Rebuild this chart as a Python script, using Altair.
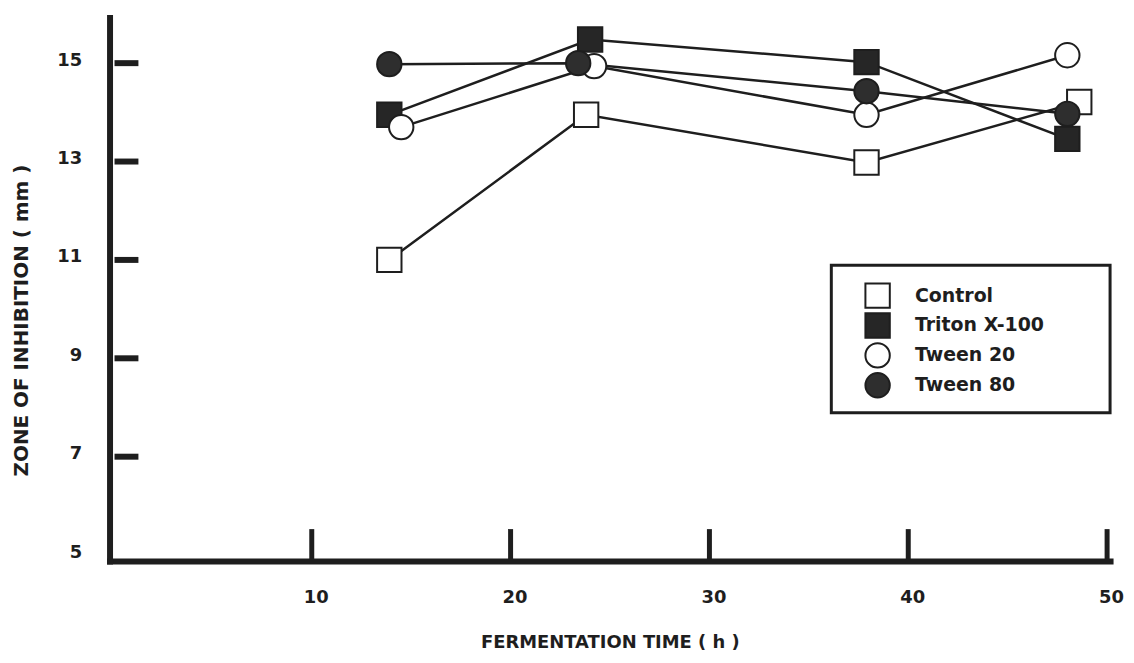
import altair as alt
import pandas as pd

series_names = ["Control", "Triton X-100", "Tween 20", "Tween 80"]
control_x = [13.9, 23.8, 37.9, 48.6]
control_y = [11.0, 13.95, 12.98, 14.21]
triton_x = [13.9, 24.0, 37.9, 48.0]
triton_y = [13.95, 15.48, 15.02, 13.46]
tween20_x = [14.5, 24.2, 37.9, 48.0]
tween20_y = [13.7, 14.94, 13.95, 15.16]
tween80_x = [13.9, 23.4, 37.9, 48.0]
tween80_y = [14.98, 15.0, 14.43, 13.97]

x_ticks = [10, 20, 30, 40, 50]
y_ticks = [7, 9, 11, 13, 15]
y_labels = [5, 7, 9, 11, 13, 15]

rows = []
for name, xs, ys in zip(series_names,
                        [control_x, triton_x, tween20_x, tween80_x],
                        [control_y, triton_y, tween20_y, tween80_y]):
    for xv, yv in zip(xs, ys):
        rows.append({"series": name, "x": xv, "y": yv})
df = pd.DataFrame(rows)

FONT = "DejaVu Sans"
INK = "#1e1e1e"
W, H = 1005, 546

xscale = alt.Scale(domain=[-0.17, 50.15], nice=False, zero=False)
yscale = alt.Scale(domain=[4.88, 15.93], nice=False, zero=False)

x_axis = alt.Axis(values=x_ticks, ticks=False, grid=False, domainWidth=6, domainColor=INK,
                  domainCap="square", labelFont=FONT, labelFontSize=18, labelFontWeight="bold",
                  labelColor=INK, labelPadding=28, labelOffset=4, labelFlush=False,
                  title="FERMENTATION TIME ( h )", titleFont=FONT, titleFontSize=18,
                  titleFontWeight="bold", titleColor=INK, titleY=82, titleBaseline="middle")
y_axis = alt.Axis(values=y_labels, ticks=False, grid=False, domainWidth=6, domainColor=INK,
                  domainCap="square", labelFont=FONT, labelFontSize=18, labelFontWeight="bold",
                  labelColor=INK, labelPadding=28, labelOffset=-3, labelFlush=False,
                  title="ZONE OF INHIBITION ( mm )", titleFont=FONT, titleFontSize=20,
                  titleFontWeight="bold", titleColor=INK, titleX=-88, titleY=304,
                  titleAngle=270, titleAlign="center", titleBaseline="middle")

X = alt.X("x:Q", scale=xscale, axis=x_axis)
Y = alt.Y("y:Q", scale=yscale, axis=y_axis)

leg = alt.Legend(symbolStrokeColor=INK, symbolStrokeWidth=2, symbolSize=600,
                 symbolOpacity=1, title=None)

lines = alt.Chart(df).mark_line(color=INK, strokeWidth=2.5).encode(
    x=X, y=Y, detail="series:N",
)

points = alt.Chart(df).mark_point(filled=True, strokeWidth=2, size=600, opacity=1).encode(
    x=X, y=Y,
    shape=alt.Shape("series:N", scale=alt.Scale(domain=series_names,
                    range=["square", "square", "circle", "circle"]), legend=leg),
    fill=alt.Fill("series:N", scale=alt.Scale(domain=series_names,
                  range=["white", "#262626", "white", "#2e2e2e"]), legend=leg),
    stroke=alt.Stroke("series:N", scale=alt.Scale(domain=series_names,
                      range=[INK, INK, INK, INK]), legend=leg),
)

box = alt.Chart(pd.DataFrame({"k": [0]})).mark_rect(fill="white", stroke=INK, strokeWidth=3).encode(
    x=alt.value(725), x2=alt.value(1005), y=alt.value(249), y2=alt.value(397),
)

ytick_df = pd.DataFrame({"y": y_ticks})
ytick = alt.Chart(ytick_df).mark_rule(color=INK, strokeWidth=6).encode(
    y=Y, x=alt.value(5), x2=alt.value(29),
)
xtick_df = pd.DataFrame({"x": x_ticks})
xtick = alt.Chart(xtick_df).mark_rule(color=INK, strokeWidth=5).encode(
    x=X, y=alt.value(514), y2=alt.value(545),
)

chart = alt.layer(box, lines, ytick, xtick, points).properties(
    width=W, height=H,
    autosize=alt.AutoSizeParams(type="none"),
    padding={"left": 102, "top": 8, "right": 16, "bottom": 92},
).configure_view(stroke=None).configure_legend(
    orient="none", legendX=758, legendY=266, padding=0,
    strokeColor="transparent", fillColor="transparent",
    symbolSize=600, symbolStrokeColor=INK, symbolStrokeWidth=2, symbolOffset=0,
    labelFont=FONT, labelFontSize=19, labelFontWeight="bold", labelColor=INK,
    labelOffset=24, rowPadding=-3,
)

chart.save("out.html", embed_options={"renderer": "svg", "actions": False})
